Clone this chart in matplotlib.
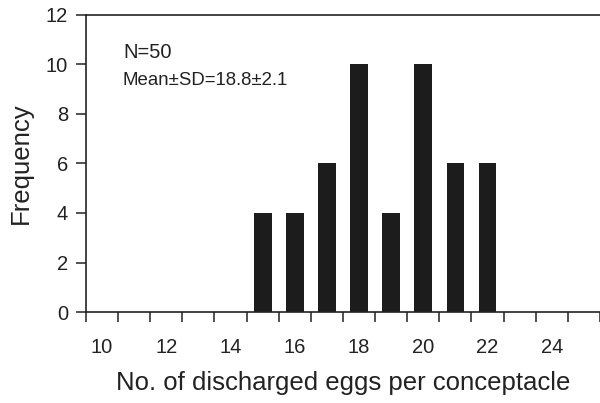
import matplotlib
matplotlib.use("Agg")
import matplotlib.pyplot as plt
import numpy as np

plt.rcParams['font.family'] = ['Liberation Sans', 'DejaVu Sans']

eggs = [15, 16, 17, 18, 19, 20, 21, 22]
freq = [4, 4, 6, 10, 4, 10, 6, 6]
xtick_labels = [10, 12, 14, 16, 18, 20, 22, 24]
ytick_labels = [0, 2, 4, 6, 8, 10, 12]

fig = plt.figure(figsize=(6.0, 4.03), dpi=100)
ax = fig.add_axes([0.1433, 0.2258, 0.8567, 0.737])

ax.bar(eggs, freq, width=0.55, color='#1c1c1c', zorder=2)

ax.set_xlim(9.5, 25.45)
ax.set_ylim(0, 12)

ax.set_xticks(xtick_labels)
ax.set_xticklabels([str(v) for v in xtick_labels])
ax.set_xticks(np.arange(9.5, 25.6, 1.0), minor=True)
ax.tick_params(axis='x', which='major', length=0, pad=19, labelsize=14.5, colors='#222222')
ax.tick_params(axis='x', which='minor', length=7, width=1.1, direction='out', color='#222222')

ax.set_yticks(ytick_labels)
ax.set_yticklabels([str(v) for v in ytick_labels])
ax.tick_params(axis='y', which='major', length=7, width=1.1, direction='out', pad=6,
               labelsize=14.5, colors='#222222')

for side in ['left', 'bottom', 'top']:
    ax.spines[side].set_linewidth(1.2)
    ax.spines[side].set_color('#222222')
ax.spines['right'].set_visible(False)

ax.set_xlabel('No. of discharged eggs per conceptacle', fontsize=18.5, color='#222222', labelpad=10)
ax.set_ylabel('Frequency', fontsize=18.5, color='#222222', labelpad=9)

ax.text(0.072, 0.905, 'N=50', transform=ax.transAxes, fontsize=14.5, color='#222222', va='top', ha='left')
ax.text(0.072, 0.808, 'Mean\u00b1SD=18.8\u00b12.1', transform=ax.transAxes, fontsize=13.4,
        color='#222222', va='top', ha='left')

fig.savefig('out.png', dpi=100)
